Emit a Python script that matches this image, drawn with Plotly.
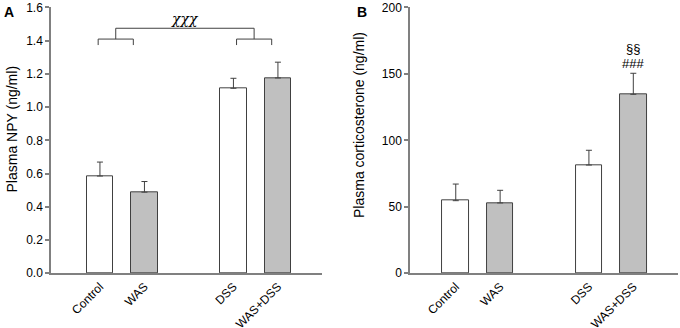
import plotly.graph_objects as go

# ---- data ----
groups = ["Control", "WAS", "DSS", "WAS+DSS"]
positions = [0, 1, 3, 4]
npy_mean = [0.585, 0.488, 1.113, 1.175]
npy_sem = [0.084, 0.064, 0.060, 0.095]
cort_mean = [54.6, 52.9, 81.4, 134.6]
cort_sem = [12.5, 9.5, 11.1, 15.8]
npy_ticks = [0.0, 0.2, 0.4, 0.6, 0.8, 1.0, 1.2, 1.4, 1.6]
cort_ticks = [0, 50, 100, 150, 200]
fills = ["white", "#c0c0c0", "white", "#c0c0c0"]

FONT = "Liberation Sans, Arial, sans-serif"
AX = "#808080"
EDGE = "#404040"

fig = go.Figure()

for i, (means, sems) in enumerate([(npy_mean, npy_sem), (cort_mean, cort_sem)]):
    sfx = "" if i == 0 else "2"
    fig.add_trace(go.Bar(
        x=positions, y=means, width=0.6,
        marker=dict(color=fills, line=dict(color=EDGE, width=1)),
        error_y=dict(type="data", symmetric=False, array=sems,
                     arrayminus=[0] * len(sems), color=EDGE, thickness=1, width=3),
        xaxis="x" + sfx, yaxis="y" + sfx, showlegend=False,
    ))

common_x = dict(tickmode="array", tickvals=positions, ticktext=groups,
                tickangle=-45, showgrid=False, zeroline=False, automargin=False,
                showline=True, linecolor=AX, linewidth=1.5, ticks="",
                tickfont=dict(family=FONT, size=12, color="black"))
common_y = dict(showgrid=False, zeroline=False, showline=True, linecolor=AX,
                linewidth=1.5, ticks="outside", ticklen=4, tickcolor=AX,
                tickwidth=1.5, automargin=False,
                tickfont=dict(family=FONT, size=12, color="black"))

fig.update_layout(
    template="none",
    width=680, height=328, margin=dict(l=0, r=0, t=0, b=0, pad=0),
    plot_bgcolor="white", paper_bgcolor="white", bargap=0,
    font=dict(family=FONT, color="black"),
    xaxis=dict(domain=[0.075, 0.4735], range=[-1.1, 4.99], anchor="y", **common_x),
    yaxis=dict(domain=[0.1668, 0.9777], range=[0, 1.6], anchor="x",
               tickvals=npy_ticks, ticktext=[f"{v:.1f}" for v in npy_ticks], **common_y),
    xaxis2=dict(domain=[0.603, 0.9966], range=[-1.03, 5.0], anchor="y2", **common_x),
    yaxis2=dict(domain=[0.1668, 0.9777], range=[0, 200], anchor="x2",
                tickvals=cort_ticks, **common_y),
)

# significance brackets (panel A)
lw = dict(color=EDGE, width=1)
y_low, y_tick, y_top = 1.409, 1.373, 1.474
brackets = [(positions[0] - 0.04, positions[1] - 0.25), (positions[2] + 0.07, positions[3] - 0.14)]
risers = []
for a, b in brackets:
    mid = (a + b) / 2
    risers.append(mid)
    fig.add_shape(type="line", x0=a, x1=b, y0=y_low, y1=y_low, xref="x", yref="y", line=lw)
    fig.add_shape(type="line", x0=a, x1=a, y0=y_low, y1=y_tick, xref="x", yref="y", line=lw)
    fig.add_shape(type="line", x0=b, x1=b, y0=y_low, y1=y_tick, xref="x", yref="y", line=lw)
    fig.add_shape(type="line", x0=mid, x1=mid, y0=y_low, y1=y_top, xref="x", yref="y", line=lw)
fig.add_shape(type="line", x0=risers[0], x1=risers[1], y0=y_top, y1=y_top, xref="x", yref="y", line=lw)

fig.add_annotation(x=sum(risers) / 2, y=y_top, yanchor="bottom", xanchor="center",
                   xref="x", yref="y", text="χχχ", showarrow=False, yshift=-1,
                   font=dict(family="DejaVu Serif, serif", size=14, style="italic", color="black"))

# panel B significance marks
fig.add_annotation(x=positions[3], y=cort_mean[3] + cort_sem[3], xref="x2", yref="y2",
                   yanchor="bottom", xanchor="center", text="###", showarrow=False, yshift=0,
                   font=dict(family=FONT, size=13, color="black"))
fig.add_annotation(x=positions[3], y=cort_mean[3] + cort_sem[3], xref="x2", yref="y2",
                   yanchor="bottom", xanchor="center", text="§§", showarrow=False, yshift=15,
                   font=dict(family=FONT, size=13, color="black"))

# axis titles
fig.add_annotation(x=11.5 / 680, y=1 - 129 / 328, xref="paper", yref="paper",
                   xanchor="center", yanchor="middle",
                   text="Plasma NPY (ng/ml)", textangle=-90, showarrow=False,
                   font=dict(family=FONT, size=14, color="black"))
fig.add_annotation(x=359 / 680, y=1 - 125 / 328, xref="paper", yref="paper",
                   xanchor="center", yanchor="middle",
                   text="Plasma corticosterone (ng/ml)", textangle=-90, showarrow=False,
                   font=dict(family=FONT, size=14, color="black"))

# panel letters
fig.add_annotation(x=2 / 680, y=1 - 2 / 328, xref="paper", yref="paper", xanchor="left",
                   yanchor="top", text="<b>A</b>", showarrow=False,
                   font=dict(family=FONT, size=14, color="black"))
fig.add_annotation(x=355 / 680, y=1 - 2 / 328, xref="paper", yref="paper", xanchor="left",
                   yanchor="top", text="<b>B</b>", showarrow=False,
                   font=dict(family=FONT, size=14, color="black"))

fig.write_html("out.html", config={"displayModeBar": False},
               post_script="document.body.style.margin='0';")
